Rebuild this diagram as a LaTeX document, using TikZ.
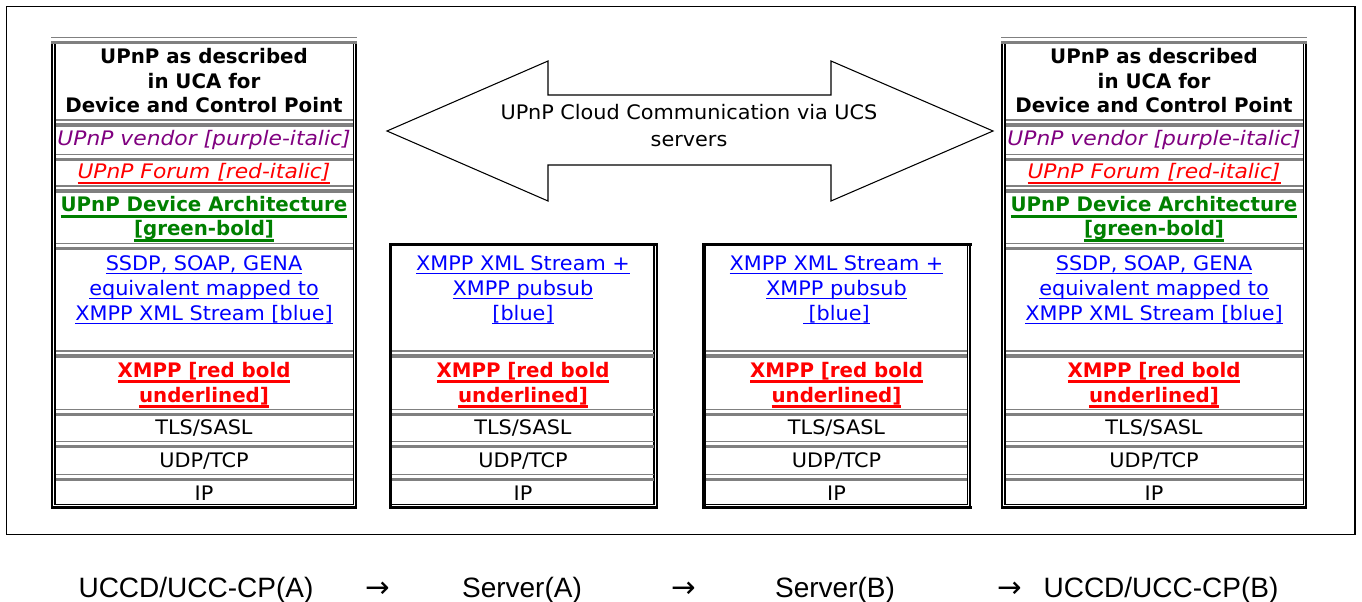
\documentclass[tikz,border=0pt]{standalone}
\usepackage{fontspec}
\setmainfont{DejaVu Sans}[UprightFeatures={FakeStretch=1.04}, BoldFeatures={FakeStretch=0.99}, ItalicFeatures={FakeStretch=1.09}]
\newfontfamily\arialfont{Liberation Sans}
\newfontfamily\symbfont{DejaVu Sans}
\definecolor{upurple}{HTML}{800080}
\definecolor{ured}{HTML}{FF0000}
\definecolor{ugreen}{HTML}{008000}
\definecolor{ublue}{HTML}{0000FF}
\definecolor{sepgray}{HTML}{808080}
\newcommand\stkfont{\fontsize{15pt}{18pt}\selectfont}
\newcommand\ulr[1]{\setbox0=\hbox{#1}\rlap{\rule[-3pt]{\wd0}{1.1pt}}\box0}
\newcommand\uli[1]{\setbox0=\hbox{#1}\rlap{\rule[-4pt]{\wd0}{1.5pt}}\box0}
\newcommand\ulb[1]{\setbox0=\hbox{#1}\rlap{\rule[-4.6pt]{\wd0}{2pt}}\box0}
\tikzset{
  septhin/.style={draw=sepgray, line width=1.2pt},
  septhick/.style={draw=sepgray, line width=2.4pt},
  blkthin/.style={draw=black, line width=0.9pt},
  blkthick/.style={draw=black, line width=1.6pt},
  blkheavy/.style={draw=black, line width=2.3pt},
  txt/.style={font=\stkfont, anchor=base, inner sep=0pt},
  txtbold/.style={txt, font=\stkfont\bfseries},
  txtit/.style={txt, font=\stkfont\itshape},
  bottomlabel/.style={font=\arialfont\fontsize{21pt}{24pt}\selectfont, anchor=base, inner sep=0pt},
  bottomarrow/.style={font=\symbfont\fontsize{22pt}{24pt}\selectfont, anchor=base, inner sep=0pt},
  bigarrow/.style={draw=black, line width=0.8pt, fill=white},
  frame/.style={draw=black, line width=1.2pt}
}
\newcommand\gsep[3]{%
  \draw[septhin] (#1,#3) -- (#2,#3);
  \draw[septhick] (#1,#3+5) -- (#2,#3+5);}
\newcommand\sidestack[1]{%
  \gsep{51}{357}{37.5}
  \draw[blkthick] (51.9,44) -- (51.9,509);
  \draw[blkthick] (54.8,44) -- (54.8,505);
  \draw[blkthin] (353.2,44) -- (353.2,505);
  \draw[blkthick] (356,44) -- (356,509);
  \draw[blkthin] (54.8,504.5) -- (353.2,504.5);
  \draw[blkheavy] (51,507.5) -- (357,507.5);
  \foreach \yy in {120,154.5,186,243.5,351,409.5,441.5,474.5}{\gsep{55.5}{352.7}{\yy}}
  \node[txtbold] (#1-h1) at (204,64) {UPnP as described};
  \node[txtbold] (#1-h2) at (204,89) {in UCA for};
  \node[txtbold] (#1-h3) at (204,113) {Device and Control Point};
  \node[txtit, text=upurple] (#1-vendor) at (204,145.5) {UPnP vendor [purple-italic]};
  \node[txtit, text=ured] (#1-forum) at (204,178.5) {\uli{UPnP Forum [red-italic]}};
  \node[txtbold, text=ugreen] (#1-da1) at (204,211.5) {\ulb{UPnP Device Architecture}};
  \node[txtbold, text=ugreen] (#1-da2) at (204,236) {\ulb{[green-bold]}};
  \node[txt, text=ublue] (#1-b1) at (204,270) {\ulr{SSDP, SOAP, GENA}};
  \node[txt, text=ublue] (#1-b2) at (204,295) {\ulr{equivalent mapped to}};
  \node[txt, text=ublue] (#1-b3) at (204,320) {\ulr{XMPP XML Stream [blue]}};
  \node[txtbold, text=ured] (#1-x1) at (204,377) {\ulb{XMPP [red bold}};
  \node[txtbold, text=ured] (#1-x2) at (204,402) {\ulb{underlined]}};
  \node[txt] (#1-tls) at (204,434.5) {TLS/SASL};
  \node[txt] (#1-udp) at (204,467) {UDP/TCP};
  \node[txt] (#1-ip) at (204,500) {IP};
}
\newcommand\midstack[2]{%
  \draw[blkheavy] (389,244.5) -- (658,244.5);
  \draw[blkheavy] (390.5,243) -- (390.5,509);
  \draw[blkthin] (654,246) -- (654,505);
  \draw[blkthick] (656.8,243) -- (656.8,509);
  \draw[blkthin] (392,504.5) -- (654,504.5);
  \draw[blkheavy] (389,507.5) -- (658,507.5);
  \foreach \yy in {351,409.5,441.5,474.5}{\gsep{392}{653.5}{\yy}}
  \node[txt, text=ublue] (#1-b1) at (523,270) {\ulr{XMPP XML Stream +}};
  \node[txt, text=ublue] (#1-b2) at (523,295) {\ulr{XMPP pubsub}};
  \node[txt, text=ublue] (#1-b3) at (523,320) {\ulr{#2[blue]}};
  \node[txtbold, text=ured] (#1-x1) at (523,377) {\ulb{XMPP [red bold}};
  \node[txtbold, text=ured] (#1-x2) at (523,402) {\ulb{underlined]}};
  \node[txt] (#1-tls) at (523,434.5) {TLS/SASL};
  \node[txt] (#1-udp) at (523,467) {UDP/TCP};
  \node[txt] (#1-ip) at (523,500) {IP};
}
\begin{document}
\begin{tikzpicture}[x=0.75pt, y=-0.75pt]
\useasboundingbox (0,0) rectangle (1362,602);
\fill[white] (0,0) rectangle (1362,602);
\draw[frame] (6.5,6.5) rectangle (1355,534.5);
% double arrow
\draw[bigarrow] (387,131) -- (548,61) -- (548,95) -- (831,95) -- (831,61) -- (993,131)
  -- (831,201) -- (831,165) -- (548,165) -- (548,201) -- cycle;
\node[txt] (cloud1) at (689,120) {UPnP Cloud Communication via UCS};
\node[txt] (cloud2) at (689,147) {servers};
% stacks
\begin{scope}\sidestack{L}\end{scope}
\begin{scope}[shift={(950,0)}]\sidestack{R}\end{scope}
\begin{scope}\midstack{MA}{}\end{scope}
\begin{scope}[shift={(313.5,0)}]\midstack{MB}{\hspace{4pt}}\end{scope}
% bottom labels
\node[bottomlabel] (devA) at (196,597) {UCCD/UCC-CP(A)};
\node[bottomarrow] (arr1) at (378,597) {→};
\node[bottomlabel] (srvA) at (522,597) {Server(A)};
\node[bottomarrow] (arr2) at (684,597) {→};
\node[bottomlabel] (srvB) at (835,597) {Server(B)};
\node[bottomarrow] (arr3) at (1010,597) {→};
\node[bottomlabel] (devB) at (1161,597) {UCCD/UCC-CP(B)};
\end{tikzpicture}
\end{document}
